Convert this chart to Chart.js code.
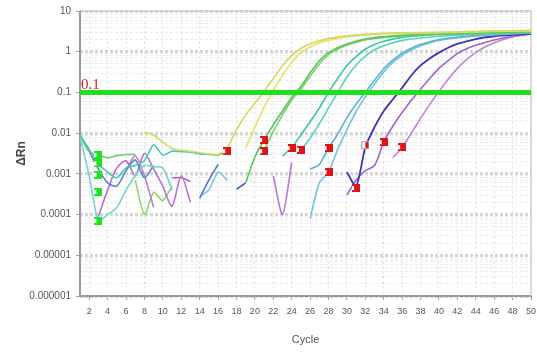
<!DOCTYPE html>
<html>
<head>
<meta charset="utf-8">
<script src="https://cdn.jsdelivr.net/npm/chart.js@4.4.1/dist/chart.umd.min.js"></script>
<style>
  html, body { margin: 0; padding: 0; background: #ffffff; }
  #wrap { width: 537px; height: 352px; }
</style>
</head>
<body>
<div id="wrap"><canvas id="ampChart" width="537" height="352"></canvas></div>
<script>
"use strict";

// axis ticks
const cycleTicks = [2, 4, 6, 8, 10, 12, 14, 16, 18, 20, 22, 24, 26, 28, 30, 32, 34, 36, 38, 40, 42, 44, 46, 48, 50];
const yDecades = [0.000001, 0.00001, 0.0001, 0.001, 0.01, 0.1, 1, 10];
const yTickLabels = ['0.000001', '0.00001', '0.0001', '0.001', '0.01', '0.1', '1', '10'];
const threshold = 0.1;

// amplification curves [cycle, dRn]
const yellowA = [[8, 0.0105], [9, 0.009], [10, 0.006], [11, 0.0042], [12, 0.0038], [13, 0.0036], [14, 0.0033], [15, 0.0031], [16, 0.003], [17, 0.0043], [18, 0.012], [19, 0.028], [20, 0.055], [21, 0.106], [22, 0.22], [23, 0.45], [24, 0.8], [25, 1.2], [26, 1.55], [27, 1.85], [28, 2.1], [30, 2.45], [33, 2.75], [36, 2.9], [40, 3.0], [45, 3.2], [50, 3.35]];
const yellowB = [[19, 0.0043], [20, 0.014], [21, 0.043], [22, 0.11], [23, 0.26], [24, 0.55], [25, 0.95], [26, 1.3], [27, 1.65], [28, 1.9], [30, 2.3], [33, 2.7], [36, 2.85], [40, 2.95], [45, 3.1], [50, 3.25]];
const greenA = [[19, 0.0006], [20, 0.0026], [21, 0.0068], [22, 0.016], [23, 0.035], [24, 0.075], [25, 0.14], [26, 0.3], [27, 0.6], [28, 0.95], [29, 1.25], [30, 1.55], [32, 2.05], [35, 2.45], [40, 2.75], [45, 2.95], [50, 3.1]];
const greenB = [[21, 0.0036], [22, 0.011], [23, 0.028], [24, 0.065], [25, 0.12], [26, 0.25], [27, 0.5], [28, 0.85], [29, 1.15], [30, 1.45], [32, 1.95], [35, 2.35], [40, 2.7], [45, 2.9], [50, 3.05]];
const tealA = [[23, 0.0027], [24, 0.0045], [25, 0.009], [26, 0.019], [27, 0.041], [28, 0.1], [29, 0.22], [30, 0.46], [31, 0.76], [32, 1.15], [33, 1.5], [34, 1.8], [36, 2.25], [40, 2.65], [45, 2.85], [50, 3.0]];
const tealB = [[25, 0.0039], [26, 0.0075], [27, 0.017], [28, 0.041], [29, 0.1], [30, 0.24], [31, 0.47], [32, 0.78], [33, 1.12], [34, 1.4], [36, 1.9], [40, 2.4], [45, 2.7], [50, 2.95]];
const blueA = [[26, 0.0013], [27, 0.0017], [28, 0.0043], [29, 0.0095], [30, 0.024], [31, 0.052], [32, 0.1], [33, 0.2], [34, 0.38], [35, 0.62], [36, 0.92], [37, 1.22], [38, 1.5], [40, 2.0], [43, 2.4], [46, 2.7], [50, 2.95]];
const blueB = [[26, 0.00008], [27, 0.0006], [28, 0.0011], [29, 0.004], [30, 0.012], [31, 0.034], [32, 0.078], [33, 0.16], [34, 0.32], [35, 0.55], [36, 0.82], [37, 1.1], [38, 1.4], [40, 1.9], [43, 2.3], [46, 2.6], [50, 2.9]];
const indigo = [[30, 0.0011], [31, 0.0005], [32, 0.0045], [33, 0.014], [34, 0.035], [35, 0.068], [36, 0.13], [37, 0.26], [38, 0.46], [39, 0.68], [40, 0.95], [41, 1.25], [42, 1.55], [44, 2.05], [46, 2.4], [48, 2.6], [50, 2.75]];
const violetA = [[30, 0.0003], [31, 0.0007], [32, 0.0012], [33, 0.0016], [34, 0.006], [35, 0.015], [36, 0.032], [37, 0.064], [38, 0.12], [39, 0.22], [40, 0.39], [41, 0.6], [42, 0.9], [43, 1.18], [44, 1.45], [46, 1.95], [48, 2.4], [50, 2.75]];
const violetB = [[35, 0.0025], [36, 0.0045], [37, 0.01], [38, 0.023], [39, 0.051], [40, 0.106], [41, 0.21], [42, 0.39], [43, 0.64], [44, 0.95], [45, 1.3], [46, 1.65], [47, 2.0], [48, 2.3], [49, 2.5], [50, 2.7]];

// baseline noise
const tealNoise = [[1, 0.009], [2, 0.004], [3, 0.0018], [4, 0.0011], [5, 0.0008], [6, 0.0014], [7, 0.0016], [8, 0.0021], [9, 0.0052], [10, 0.0029], [11, 0.0036], [12, 0.0035], [13, 0.0034], [14, 0.0031], [15, 0.003], [16, 0.0029], [17, 0.0036]];
const tealLowNoise = [[1, 0.008], [2, 0.0009], [3, 0.00007], [4, 0.0001], [5, 0.00015], [6, 0.0004], [7, 0.0009], [8, 0.0016], [9, 0.0015], [10, 0.0014], [11, 0.0004]];
const greenNoise = [[1, 0.0085], [2, 0.0035], [3, 0.0029], [4, 0.0025], [5, 0.0028], [6, 0.003], [7, 0.003]];
const blueNoise = [[1, 0.009], [2, 0.0035], [3, 0.0013], [4, 0.0006], [5, 0.0005], [6, 0.0012], [7, 0.0022], [8, 0.0008], [9, 0.0016]];
const purpleNoiseA = [[3, 0.00009], [4, 0.0004], [5, 0.0014], [6, 0.0021], [7, 0.0009], [8, 0.0032], [9, 0.0013], [10, 0.0005]];
const purpleNoiseB = [[6, 0.0012], [7, 0.0028], [8, 0.0009], [9, 0.00015]];
const purpleNoiseC = [[10, 0.0005], [11, 0.00016], [12, 0.0009], [13, 0.0002]];
const purpleNoiseD = [[11, 0.0008], [12, 0.0008], [13, 0.00065]];
const greenLowNoise = [[7, 0.0007], [8, 0.0001], [9, 0.00035], [10, 0.00022], [11, 0.0005]];
const blueLateNoise = [[14, 0.00025], [15, 0.0007], [16, 0.0017]];
const cyanLateNoise = [[14, 0.00028], [15, 0.0004], [16, 0.0011], [17, 0.0007]];
const indigoNoise = [[18, 0.00042], [19, 0.0006]];
const purpleV = [[22, 0.0009], [23, 0.0001], [24, 0.0019]];

// baseline start markers and Ct markers
const startMarks = [[3, 0.0029], [3, 0.0018], [3, 0.00095], [3, 0.00036], [3, 0.00007]];
const ctMarks = [[17, 0.0036], [21, 0.0068], [21, 0.0036], [24, 0.0043], [25, 0.0039], [28, 0.0043], [28, 0.0011], [31, 0.00045], [34, 0.006], [36, 0.0045]];
const openMarks = [[32, 0.0051]];

function pts(arr) {
  return arr.map(function (p) { return { x: p[0], y: p[1] }; });
}

function isDecade(v) {
  const l = Math.log10(v);
  return Math.abs(l - Math.round(l)) < 1e-6;
}

function markIcon(fill, inner) {
  const c = document.createElement('canvas');
  c.width = 8; c.height = 8;
  const g = c.getContext('2d');
  g.fillStyle = fill;
  g.fillRect(0, 0, 8, 8);
  g.fillStyle = inner;
  g.fillRect(0, 2, 2, 4);
  return c;
}

function openIcon() {
  const c = document.createElement('canvas');
  c.width = 8; c.height = 8;
  const g = c.getContext('2d');
  g.fillStyle = '#ffffff';
  g.fillRect(0, 0, 8, 8);
  g.fillStyle = '#e01418';
  g.fillRect(4, 1, 4, 6);
  g.strokeStyle = '#b0b0b0';
  g.strokeRect(0.5, 0.5, 7, 7);
  return c;
}

function curve(data, color, width) {
  return {
    data: pts(data),
    borderColor: color,
    borderWidth: width || 1.6,
    pointRadius: 0,
    tension: 0.25,
    fill: false
  };
}

const frameAndLabel = {
  id: 'frameAndLabel',
  beforeDatasetsDraw: function (chart) {
    const a = chart.chartArea, ctx = chart.ctx;
    ctx.save();
    ctx.strokeStyle = '#d0d0d0';
    ctx.lineWidth = 1.5;
    ctx.beginPath();
    ctx.moveTo(a.left, a.top);
    ctx.lineTo(a.right, a.top);
    ctx.lineTo(a.right, a.bottom);
    ctx.stroke();
    ctx.strokeStyle = '#9a9a9a';
    ctx.lineWidth = 2;
    ctx.beginPath();
    ctx.moveTo(a.left, a.top);
    ctx.lineTo(a.left, a.bottom);
    ctx.lineTo(a.right, a.bottom);
    ctx.stroke();
    ctx.restore();
  },
  afterDatasetsDraw: function (chart) {
    const ctx = chart.ctx;
    const y = chart.scales.y.getPixelForValue(threshold);
    ctx.save();
    ctx.fillStyle = '#d02020';
    ctx.font = '15px "Liberation Serif", serif';
    ctx.textBaseline = 'alphabetic';
    ctx.fillText('0.1', chart.chartArea.left + 1, y - 3);
    ctx.restore();
  }
};

const ampChart = document.getElementById('ampChart');
new Chart(ampChart, {
  type: 'line',
  data: {
    datasets: [
      {
        data: pts(ctMarks),
        showLine: false,
        pointStyle: markIcon('#e01418', '#ffffff'),
        pointRadius: 4,
        pointHoverRadius: 4
      },
      {
        data: pts(openMarks),
        showLine: false,
        pointStyle: openIcon(),
        pointRadius: 4,
        pointHoverRadius: 4
      },
      {
        data: pts(startMarks),
        showLine: false,
        pointStyle: markIcon('#22e022', '#ffffff'),
        pointRadius: 4,
        pointHoverRadius: 4
      },
      {
        data: [{ x: 1, y: threshold }, { x: 50, y: threshold }],
        borderColor: '#1ee01e',
        borderWidth: 5,
        pointRadius: 0
      },
      curve(yellowA, '#d4d85e'),
      curve(yellowB, '#e2e46e'),
      curve(greenA, '#58c658'),
      curve(greenB, '#7ad070'),
      curve(tealA, '#3cc6a2'),
      curve(tealB, '#5cd2bc'),
      curve(blueA, '#56b4d6'),
      curve(blueB, '#74c2e0'),
      curve(indigo, '#4234b2', 1.8),
      curve(violetA, '#a262d2'),
      curve(violetB, '#c282e0'),
      curve(tealNoise, '#48cab0'),
      curve(tealLowNoise, '#74d6c8'),
      curve(greenNoise, '#72d06c'),
      curve(blueNoise, '#5a80d0'),
      curve(purpleNoiseA, '#b46ed8'),
      curve(purpleNoiseB, '#c07ad8'),
      curve(purpleNoiseC, '#b872d8'),
      curve(purpleNoiseD, '#a862d0'),
      curve(greenLowNoise, '#8cd86c'),
      curve(blueLateNoise, '#6070d0'),
      curve(cyanLateNoise, '#80c8dc'),
      curve(indigoNoise, '#5050b8'),
      curve(purpleV, '#b47ad8')
    ]
  },
  options: {
    responsive: false,
    animation: false,
    events: [],
    layout: {
      padding: { top: 4, right: 6, bottom: 0, left: 0 }
    },
    scales: {
      x: {
        type: 'linear',
        min: 1,
        max: 50,
        afterBuildTicks: function (scale) {
          scale.ticks = cycleTicks.map(function (v) { return { value: v }; });
        },
        afterFit: function (scale) {
          scale.height = 56;
          scale.paddingRight = 0;
          scale.paddingLeft = 0;
        },
        ticks: {
          autoSkip: false,
          maxRotation: 0,
          padding: 6,
          color: '#555555',
          font: { family: 'Liberation Sans, Arial, sans-serif', size: 9 }
        },
        grid: {
          color: '#e6e6e6',
          lineWidth: 1,
          tickLength: 4,
          tickColor: '#a0a0a0'
        },
        border: { display: false, dash: [3, 2] },
        title: {
          display: true,
          text: 'Cycle',
          color: '#555555',
          padding: { top: 0, bottom: 5 },
          font: { family: 'Liberation Sans, Arial, sans-serif', size: 11 }
        }
      },
      y: {
        type: 'logarithmic',
        min: 0.000001,
        max: 10,
        afterBuildTicks: function (scale) {
          const t = [];
          yDecades.forEach(function (d, i) {
            t.push({ value: d });
            if (i < yDecades.length - 1) {
              for (let m = 2; m <= 9; m++) t.push({ value: d * m });
            }
          });
          scale.ticks = t;
        },
        afterFit: function (scale) {
          scale.width = 80;
        },
        ticks: {
          autoSkip: false,
          padding: 5,
          color: '#555555',
          font: { family: 'Liberation Sans, Arial, sans-serif', size: 10 },
          callback: function (v) {
            for (let i = 0; i < yDecades.length; i++) {
              if (Math.abs(Math.log10(yDecades[i]) - Math.log10(v)) < 1e-6) return yTickLabels[i];
            }
            return '';
          }
        },
        grid: {
          color: function (ctx) {
            return ctx.tick && isDecade(ctx.tick.value) ? '#d6d6d6' : '#ececec';
          },
          lineWidth: function (ctx) {
            return ctx.tick && isDecade(ctx.tick.value) ? 3 : 1;
          },
          tickLength: 4,
          tickColor: function (ctx) {
            return ctx.tick && isDecade(ctx.tick.value) ? '#a0a0a0' : 'rgba(0,0,0,0)';
          },
          tickWidth: 1
        },
        border: { display: false, dash: [3, 2] },
        title: {
          display: true,
          text: 'ΔRn',
          color: '#444444',
          padding: { top: 14, bottom: 14 },
          font: { family: 'Liberation Sans, Arial, sans-serif', size: 12, weight: 'bold' }
        }
      }
    },
    plugins: {
      legend: { display: false },
      tooltip: { enabled: false }
    }
  },
  plugins: [frameAndLabel]
});
</script>
</body>
</html>
